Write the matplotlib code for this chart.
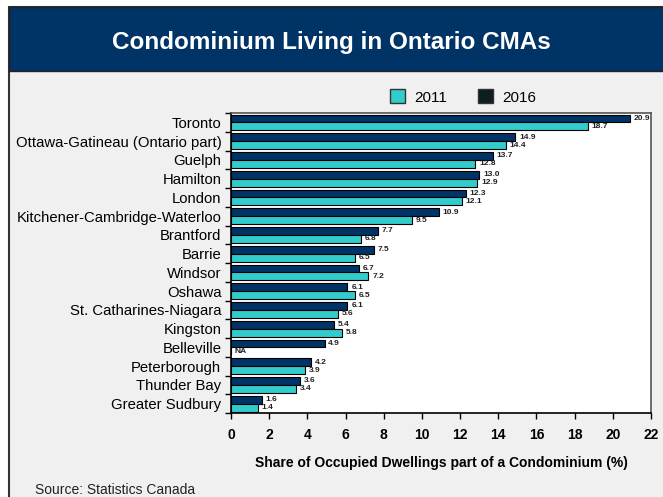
import numpy as np
import matplotlib.pyplot as plt
from matplotlib.patches import Rectangle, Patch

plt.rcParams['font.family'] = ['Liberation Sans', 'DejaVu Sans']

# -- data, top to bottom --
cmas = ["Toronto", "Ottawa-Gatineau (Ontario part)", "Guelph", "Hamilton", "London",
        "Kitchener-Cambridge-Waterloo", "Brantford", "Barrie", "Windsor", "Oshawa",
        "St. Catharines-Niagara", "Kingston", "Belleville", "Peterborough",
        "Thunder Bay", "Greater Sudbury"]
share_2016 = [20.9, 14.9, 13.7, 13.0, 12.3, 10.9, 7.7, 7.5, 6.7, 6.1, 6.1, 5.4, 4.9, 4.2, 3.6, 1.6]
share_2011 = [18.7, 14.4, 12.8, 12.9, 12.1, 9.5, 6.8, 6.5, 7.2, 6.5, 5.6, 5.8, np.nan, 3.9, 3.4, 1.4]
xticks = list(range(0, 23, 2))

navy = "#003366"
teal = "#33CCCC"
W, H = 663, 497

fig = plt.figure(figsize=(W / 100, H / 100), dpi=100)
fig.patch.set_facecolor("white")

# -- background box and header --
fig.patches.append(Rectangle((9 / W, -0.02), 1.0, 1 - 7 / H + 0.02, transform=fig.transFigure,
                             facecolor="#f0f0f0", edgecolor="#333333", linewidth=1.5, zorder=0))
fig.patches.append(Rectangle((9 / W, 1 - 71 / H), 1.0, 64 / H, transform=fig.transFigure,
                             facecolor=navy, edgecolor="#222222", linewidth=1, zorder=1))
fig.text(331 / W, 1 - 43 / H, "Condominium Living in Ontario CMAs", color="white",
         fontsize=17.5, fontweight="bold", ha="center", va="center")

ax = fig.add_axes([231 / W, 1 - 413 / H, 420 / W, 300 / H])
ax.set_zorder(5)
ax.set_facecolor("white")

y = np.arange(len(cmas))
h = 0.42
ax.barh(y - h / 2, share_2016, height=h, color=navy, edgecolor="black", linewidth=0.8, zorder=3)
ax.barh(y + h / 2, np.nan_to_num(share_2011), height=h, color=teal, edgecolor="black",
        linewidth=0.8, zorder=3)

for i in range(len(cmas)):
    ax.text(share_2016[i] + 0.2, y[i] - h / 2, f"{share_2016[i]:.1f}", fontsize=6,
            fontweight="bold", va="center", ha="left", color="#222222", zorder=4)
    if np.isnan(share_2011[i]):
        lbl, xx = "NA", 0.2
    else:
        lbl, xx = f"{share_2011[i]:.1f}", share_2011[i] + 0.2
    ax.text(xx, y[i] + h / 2, lbl, fontsize=6, fontweight="bold", va="center", ha="left",
            color="#222222", zorder=4)

ax.set_xlim(0, 22)
ax.set_ylim(len(cmas) - 0.5, -0.5)
ax.set_xticks(xticks)
ax.set_xticklabels([str(t) for t in xticks], fontsize=10, fontweight="bold")
ax.tick_params(axis="x", direction="out", length=4, width=1, pad=7)

ax.set_yticks(y)
ax.set_yticklabels(cmas, fontsize=10.7)
ax.tick_params(axis="y", which="major", length=0, pad=7)
ax.set_yticks(np.arange(len(cmas) + 1) - 0.5, minor=True)
ax.tick_params(axis="y", which="minor", length=4, width=1, direction="out")

ax.set_xlabel("Share of Occupied Dwellings part of a Condominium (%)", fontsize=10,
              fontweight="bold", labelpad=10)

for s in ["left", "bottom"]:
    ax.spines[s].set_color("black")
    ax.spines[s].set_linewidth(1.2)
for s in ["top", "right"]:
    ax.spines[s].set_color("#555555")
    ax.spines[s].set_linewidth(1.2)

handles = [Patch(facecolor=teal, edgecolor="#333333", label="2011"),
           Patch(facecolor="#0b1f1f", edgecolor="#333333", label="2016")]
fig.legend(handles=handles, loc="center", bbox_to_anchor=(463 / W, 1 - 97 / H), ncol=2,
           frameon=False, fontsize=11, handlelength=1.0, handleheight=1.0,
           columnspacing=2.0, handletextpad=0.6)

fig.text(35 / W, 1 - 490 / H, "Source: Statistics Canada", fontsize=10, ha="left", va="center",
         color="#222222")

fig.savefig("out.png", dpi=100)
